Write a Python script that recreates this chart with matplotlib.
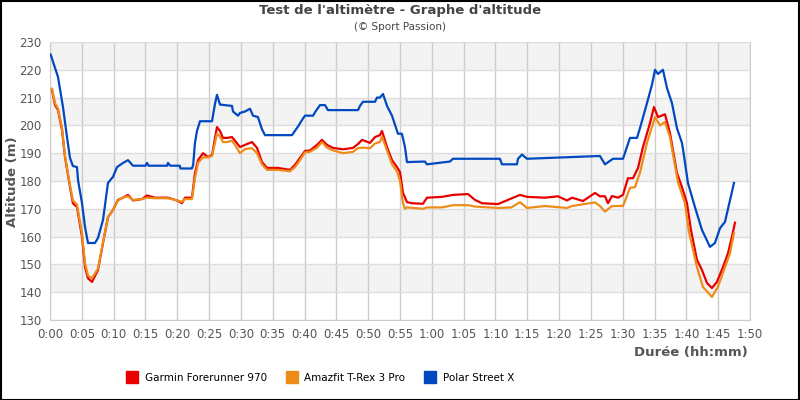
import numpy as np
import matplotlib.pyplot as plt
from matplotlib.lines import Line2D

# temps en minutes, altitude en m
garmin_t = [0.31, 0.79, 1.26, 1.89, 2.36, 3.14, 3.6, 4.24, 5.03, 5.5, 5.97, 6.6, 7.54, 8.33, 9.11, 9.9,
            10.68, 11.47, 12.26, 13.04, 14.46, 15.24, 16.5, 18.54, 19.96, 20.74, 21.21, 22.31, 22.78,
            23.26, 24.04, 24.83, 25.46, 26.24, 26.71, 27.18, 27.81, 28.6, 29.07, 29.86, 30.64, 31.74,
            32.53, 33.31, 34.1, 35.83, 37.71, 38.5, 39.28, 40.07, 40.86, 41.96, 42.74, 43.53, 44.47,
            46.04, 47.61, 48.4, 49.03, 50.28, 51.07, 51.85, 52.17, 52.96, 53.74, 54.53, 55.0, 55.47,
            56.1, 56.88, 58.61, 59.24, 61.6, 63.32, 65.68, 66.78, 67.88, 70.4, 71.97, 73.85, 74.95,
            77.78, 79.82, 81.24, 82.03, 83.76, 85.64, 86.42, 87.21, 87.68, 88.31, 89.25, 90.04, 90.83,
            91.61, 92.4, 93.18, 94.28, 94.91, 95.54, 96.64, 97.42, 98.52, 99.31, 100.1, 100.72, 101.67,
            102.45, 103.24, 104.02, 104.81, 105.75, 106.54, 107.17, 107.64]
garmin_v = [212.7, 207.3, 205.5, 198.3, 188.6, 177.8, 172, 170.6, 159.9, 149, 145, 143.7, 148, 157.7, 167, 169.6,
            173.2, 174, 175, 173, 173.5, 174.8, 174, 174, 173, 172, 174, 174, 182.8,
            187.5, 190, 188.6, 189.4, 199.4, 198, 195.5, 195.5, 195.8, 194.5, 192.2, 193, 194,
            191.9, 186.8, 184.7, 184.7, 184, 185.8, 188.3, 190.8, 191, 193, 194.8, 193, 191.9,
            191.4, 191.9, 193.3, 194.8, 193.7, 195.8, 196.5, 198, 192.2, 187.5, 185, 183.2, 175.7,
            172.4, 172, 171.8, 174, 174.3, 175, 175.3, 173.2, 172, 171.7, 173.2, 175, 174.3,
            174, 174.5, 173, 174, 172.8, 175.7, 174.5, 174.5, 172, 174.6, 174, 175, 181,
            181, 184.7, 192.2, 200.8, 206.6, 203, 204, 197.3, 182.9, 177.8, 172, 162.4, 151.6,
            148, 143.3, 141.5, 143.7, 149, 154, 160, 165]

amazfit_t = [0.31, 0.79, 1.26, 1.89, 2.36, 3.14, 3.6, 4.24, 5.03, 5.5, 5.97, 6.6, 7.54, 8.33, 9.11, 9.9,
             10.68, 11.47, 12.26, 13.04, 14.46, 15.24, 16.5, 18.54, 19.96, 20.74, 21.21, 22.31, 22.78,
             23.26, 24.04, 24.83, 25.46, 26.24, 26.71, 27.18, 27.81, 28.6, 29.07, 29.86, 30.64, 31.74,
             32.53, 33.31, 34.1, 35.83, 37.71, 38.5, 39.28, 40.07, 40.86, 41.96, 42.74, 43.53, 44.47,
             46.04, 47.61, 48.4, 49.03, 50.28, 51.07, 51.85, 52.17, 52.96, 53.74, 54.53, 55.0, 55.47,
             55.78, 56.1, 58.61, 59.24, 61.6, 63.32, 65.68, 66.78, 70.4, 72.5, 73.85, 74.95, 77.78,
             81.24, 82.03, 85.64, 86.42, 87.21, 88.31, 90.04, 91.14, 91.93, 92.71, 93.81, 95.07, 95.85,
             96.64, 97.42, 98.68, 99.78, 100.41, 101.67, 102.6, 104.02, 104.96, 106.07, 106.85, 107.48]
amazfit_v = [213.2, 208, 206, 199, 189, 178.5, 173, 171.5, 161, 150.5, 146, 145, 148.5, 158, 167, 169.6,
             173, 174, 174.5, 173.2, 173.5, 174, 173.8, 173.8, 173, 172.5, 173.5, 173.5, 181,
             186.5, 188.5, 188.5, 189, 197, 196, 194, 194, 194.5, 193, 190, 191.5, 191.8,
             190, 186, 184, 184, 183.5, 185, 187.5, 190.3, 190.5, 192, 194, 192, 191,
             190, 190.5, 191.8, 192, 191.8, 193.5, 194, 196, 191, 186, 183.5, 180, 172,
             170, 170.5, 170, 170.5, 170.5, 171.3, 171.3, 170.8, 170.3, 170.5, 172.4, 170.3, 171,
             170.3, 171, 172.3, 171, 169, 171, 171, 177.5, 177.8, 183, 193.7, 203, 200,
             201.2, 195.8, 179.6, 172, 161.7, 149, 141.9, 138.3, 141.9, 149, 154, 161.3]

polar_t = [0.1, 1.26, 2.04, 2.67, 3.14, 3.6, 4.24, 4.4, 5.03, 5.5, 5.97, 7.07, 7.54, 8.33, 9.11, 9.9,
           10.53, 11.47, 12.26, 13.04, 15.0, 15.24, 15.5, 18.4, 18.54, 18.9, 20.4, 20.5, 22.3, 22.5,
           22.78, 23.1, 23.57, 25.46, 25.93, 26.24, 26.71, 28.6, 28.76, 29.54, 29.86, 30.64, 31.43,
           31.9, 32.68, 33.31, 33.78, 38.03, 38.97, 39.76, 40.07, 41.33, 41.64, 42.43, 43.21, 43.68,
           48.4, 48.71, 49.18, 51.07, 51.38, 51.85, 52.33, 52.96, 53.74, 54.68, 55.3, 55.78, 56.1,
           58.9, 59.24, 62.85, 63.32, 70.71, 71.02, 73.38, 73.54, 74.17, 74.95, 86.42, 87.21, 88.47,
           90.04, 91.14, 92.24, 92.71, 93.81, 94.6, 95.07, 95.54, 96.32, 96.95, 97.74, 98.52, 99.31,
           99.5, 100.25, 101.35, 102.45, 103.71, 104.49, 105.28, 106.07, 106.85, 107.48]
polar_v = [225.5, 217.4, 206.6, 195.8, 188.3, 185.4, 185, 180.4, 172, 163.5, 157.7, 157.7, 159.5, 166, 179.3, 181.5,
           185, 186.5, 187.5, 185.5, 185.5, 186.5, 185.5, 185.5, 186.5, 185.5, 185.5, 184.5, 184.5, 185.8,
           193.7, 198, 201.5, 201.5, 207.8, 211, 207.5, 207, 205, 203.5, 204.5, 205, 206,
           203.5, 203, 198.6, 196.5, 196.5, 199.6, 202.5, 203.5, 203.5, 204.7, 207.3, 207.3, 205.5,
           205.5, 207, 208.5, 208.5, 210, 210, 211.3, 207, 203.5, 197, 197, 192.2, 186.8,
           187, 186, 187, 188, 188, 186, 186, 188, 189.5, 188, 189, 186, 188,
           188, 195.5, 195.5, 199, 208, 214.7, 220, 218.5, 220, 213.5, 208, 199, 193.7,
           191, 179.3, 170.6, 162.4, 156.3, 157.7, 163, 165.3, 173, 179.3]

xticks = list(range(0, 115, 5))
xlabels = ['%d:%02d' % (m // 60, m % 60) for m in xticks]
yticks = list(range(130, 240, 10))

fig = plt.figure(figsize=(8, 4), dpi=100)
ax = fig.add_axes([0.0625, 0.2, 0.875, 0.695])

# bandes grises
for y0 in range(140, 230, 20):
    ax.axhspan(y0, y0 + 10, color='#f3f3f3', zorder=0, lw=0)

ax.set_xlim(0, 110)
ax.set_ylim(130, 230)
ax.set_xticks(xticks)
ax.set_xticklabels(xlabels)
ax.set_yticks(yticks)
ax.grid(True, axis='x', color='#cccccc', lw=1, zorder=1)
ax.grid(True, axis='y', color='#dddddd', lw=1, zorder=1)
ax.tick_params(length=0, labelsize=8.5, labelcolor='#555555', pad=6)
for s in ax.spines.values():
    s.set_color('#cccccc')
ax.spines['top'].set_color('#dddddd')

c_red = '#e80000'
c_orange = '#ee8c1a'
c_blue = '#0049c0'
ax.plot(garmin_t, garmin_v, color=c_red, lw=1.6, zorder=3)
ax.plot(amazfit_t, amazfit_v, color=c_orange, lw=1.6, zorder=4)
ax.plot(polar_t, polar_v, color=c_blue, lw=1.6, zorder=5)

fig.text(0.016, 0.545, 'Altitude (m)', rotation=90, ha='center', va='center', fontsize=9.5,
         fontweight='bold', color='#555555')
fig.text(0.935, 0.118, 'Durée (hh:mm)', ha='right', va='center', fontsize=9.5,
         fontweight='bold', color='#555555')

fig.text(0.5, 0.973, "Test de l'altimètre - Graphe d'altitude", ha='center', va='center',
         fontsize=9.5, fontweight='bold', color='#444444')
fig.text(0.5, 0.932, "(© Sport Passion)", ha='center', va='center', fontsize=7.5, color='#444444')

handles = [Line2D([], [], color=c, lw=0, marker='s', markersize=9) for c in (c_red, c_orange, c_blue)]
fig.legend(handles, ['Garmin Forerunner 970', 'Amazfit T-Rex 3 Pro', 'Polar Street X'],
           loc='center', bbox_to_anchor=(0.4, 0.055), ncol=3, frameon=False, fontsize=7.5,
           handletextpad=0.6, columnspacing=1.8, handlelength=1.2)

# cadre noir
fig.patches.append(plt.Rectangle((0.001, 0.001), 0.998, 0.997, transform=fig.transFigure,
                                 fill=False, edgecolor='black', lw=1.5))

plt.savefig('out.png', dpi=100)
